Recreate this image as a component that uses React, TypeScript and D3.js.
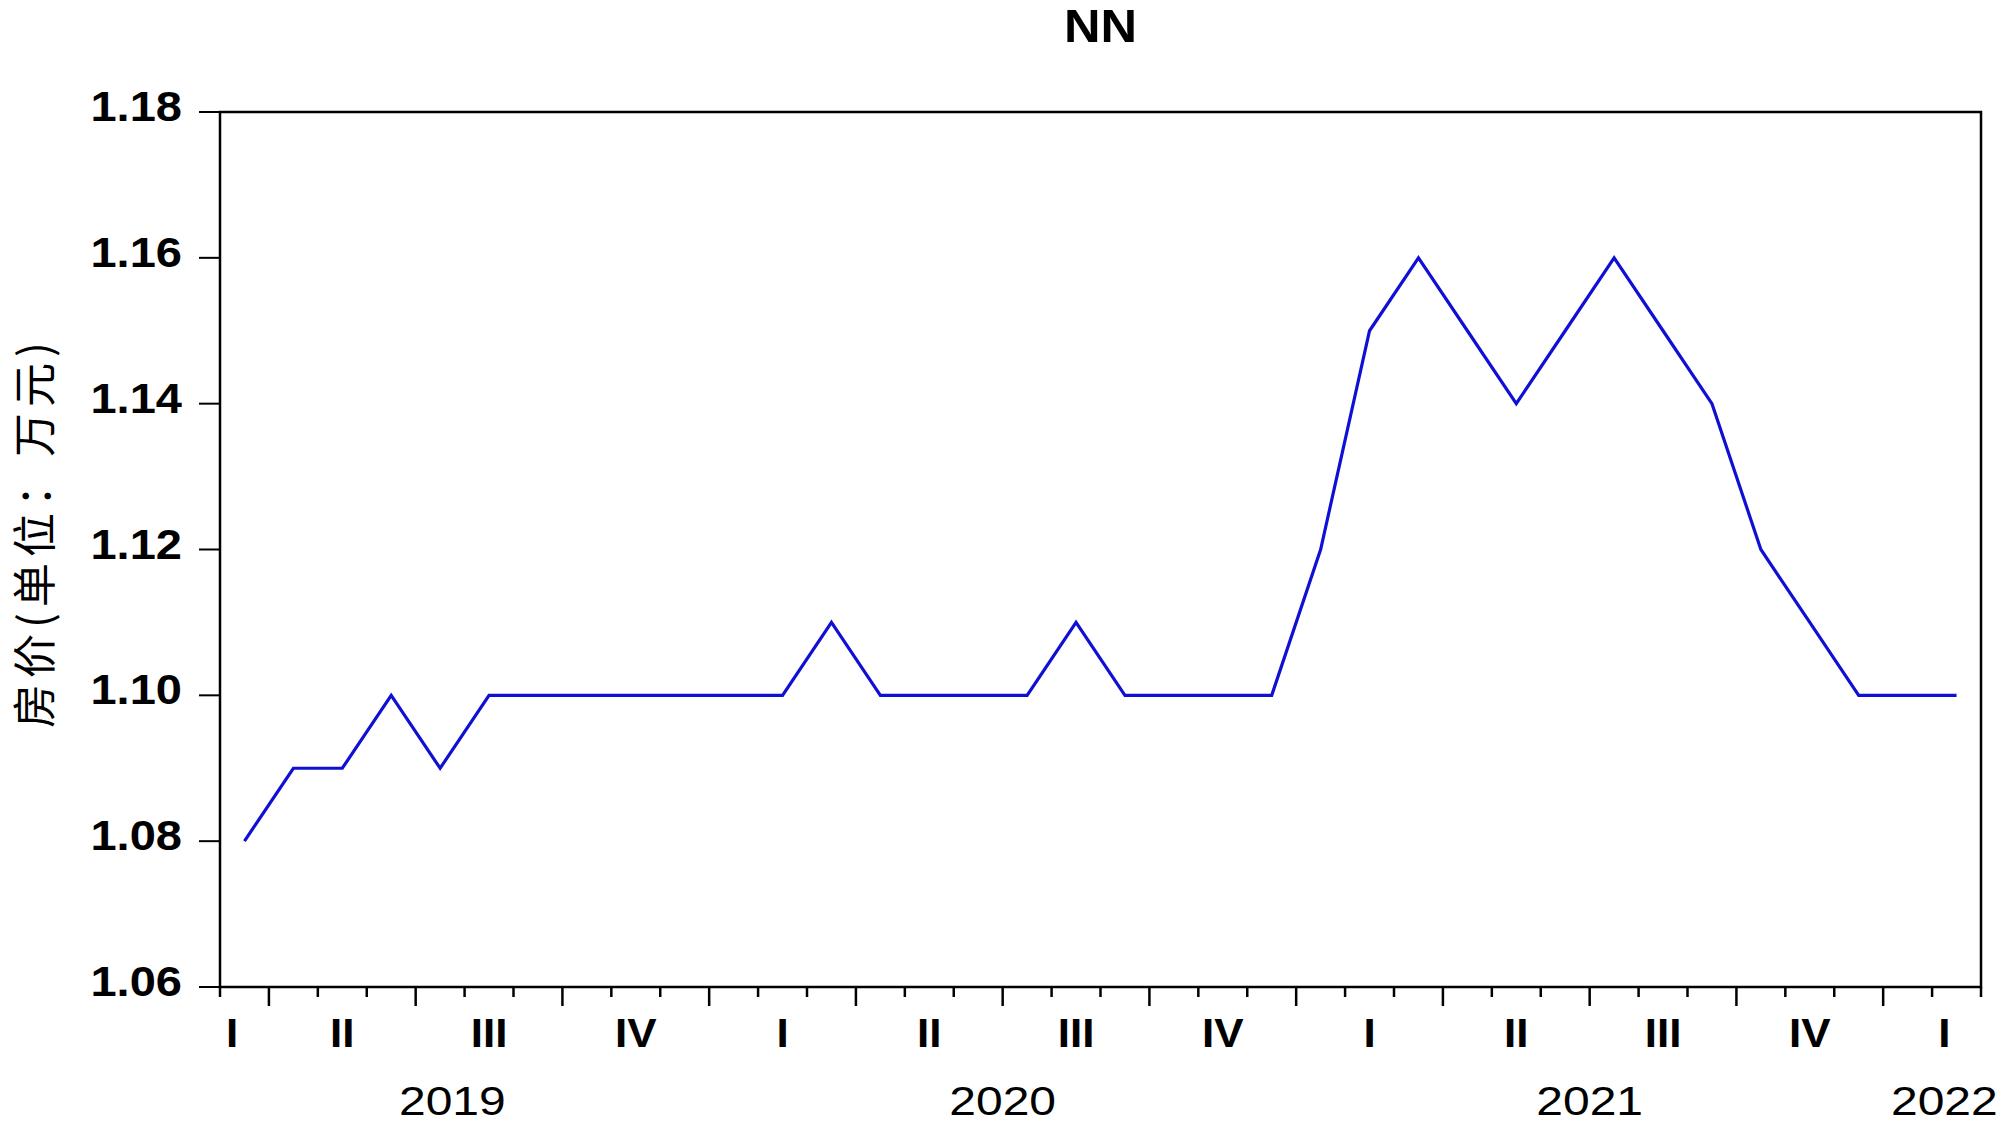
import React from "react";
import * as d3 from "d3";

// ---- data (monthly, starting 2019-03) ----
const startYear = 2019;
const startMonth = 3; // March
const values: number[] = [
  1.08, 1.09, 1.09, 1.10, 1.09, 1.10, 1.10, 1.10, 1.10, 1.10, 1.10, 1.10,
  1.11, 1.10, 1.10, 1.10, 1.10, 1.11, 1.10, 1.10, 1.10, 1.10, 1.12, 1.15,
  1.16, 1.15, 1.14, 1.15, 1.16, 1.15, 1.14, 1.12, 1.11, 1.10, 1.10, 1.10,
];
const yTicks: number[] = [1.06, 1.08, 1.10, 1.12, 1.14, 1.16, 1.18];
const quarterNames: string[] = ["I", "II", "III", "IV"];
const title = "NN";
const yLabel = "房价(单位：万元)";

const W = 2000;
const H = 1125;
const M = { left: 220, right: 1981, top: 112, bottom: 987 };
const FONT = "'Liberation Sans', Arial, Helvetica, sans-serif";

export default function App() {
  const n = values.length;
  const x = d3.scaleLinear().domain([-0.5, n - 0.5]).range([M.left, M.right]);
  const y = d3.scaleLinear().domain([1.06, 1.18]).range([M.bottom, M.top]);
  const line = d3
    .line<number>()
    .x((_, i) => x(i))
    .y((d) => y(d));

  const cal = (i: number) => {
    const t = startMonth - 1 + i;
    return { year: startYear + Math.floor(t / 12), month: (((t % 12) + 12) % 12) + 1 };
  };

  const ticks: { pos: number; long: boolean }[] = [];
  for (let b = 0; b <= n; b++) {
    const m = cal(b).month;
    const long = b > 0 && b < n && (m - 1) % 3 === 0;
    ticks.push({ pos: b - 0.5, long });
  }

  const lo = -1.0;
  const hi = n;
  const qLabels: { c: number; text: string }[] = [];
  const yLabels: { c: number; text: string }[] = [];
  const first = cal(0);
  const last = cal(n - 1);
  for (let yr = first.year; yr <= last.year; yr++) {
    for (let q = 0; q < 4; q++) {
      const s = (yr - startYear) * 12 + q * 3 + 1 - startMonth;
      const a = Math.max(s - 0.5, lo);
      const b = Math.min(s + 2.5, hi);
      if (b > a && s + 2 >= 0 && s <= n - 1) qLabels.push({ c: (a + b) / 2, text: quarterNames[q] });
    }
    const s = (yr - startYear) * 12 + 1 - startMonth;
    const a = Math.max(s - 0.5, lo);
    const b = Math.min(s + 11.5, hi);
    yLabels.push({ c: (a + b) / 2, text: String(yr) });
  }

  return (
    <svg width={W} height={H} style={{ display: "block", position: "absolute", left: 0, top: 0 }}>
      <rect x={0} y={0} width={W} height={H} fill="#fff" />
      <text
        transform={`translate(${(M.left + M.right) / 2},42) scale(1.1,1)`}
        textAnchor="middle"
        fontFamily={FONT}
        fontWeight="bold"
        fontSize={46}
      >
        {title}
      </text>
      <text
        transform={`translate(51,532) rotate(-90)`}
        textAnchor="middle"
        fontFamily="'Noto Sans CJK SC', sans-serif"
        fontSize={44}
        letterSpacing={6}
      >
        {yLabel}
      </text>
      <rect
        x={M.left}
        y={M.top}
        width={M.right - M.left}
        height={M.bottom - M.top}
        fill="none"
        stroke="#000"
        strokeWidth={2.5}
      />
      {yTicks.map((t) => (
        <g key={t}>
          <line x1={M.left - 21} x2={M.left} y1={y(t)} y2={y(t)} stroke="#000" strokeWidth={2} />
          <text
            transform={`translate(${M.left - 38},${y(t) + 9}) scale(1.12,1)`}
            textAnchor="end"
            fontFamily={FONT}
            fontWeight="bold"
            fontSize={42}
          >
            {d3.format(".2f")(t)}
          </text>
        </g>
      ))}
      {ticks.map((t, i) => (
        <line
          key={i}
          x1={x(t.pos)}
          x2={x(t.pos)}
          y1={M.bottom}
          y2={M.bottom + (t.long ? 19 : 10)}
          stroke="#000"
          strokeWidth={2.5}
        />
      ))}
      {qLabels.map((l, i) => (
        <text
          key={"q" + i}
          transform={`translate(${x(l.c)},1047) scale(1.1,1)`}
          textAnchor="middle"
          fontFamily={FONT}
          fontWeight="bold"
          fontSize={40}
        >
          {l.text}
        </text>
      ))}
      {yLabels.map((l, i) => (
        <text
          key={"y" + i}
          transform={`translate(${x(l.c)},1115) scale(1.2,1)`}
          textAnchor="middle"
          fontFamily={FONT}
          fontSize={40}
        >
          {l.text}
        </text>
      ))}
      <path d={line(values) || ""} fill="none" stroke="#1010d4" strokeWidth={3.2} strokeLinejoin="miter" />
    </svg>
  );
}
